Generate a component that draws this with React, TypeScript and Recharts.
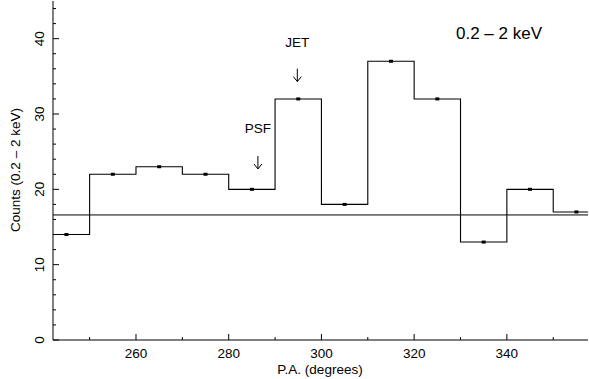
import React from "react"
import {
  ComposedChart,
  Line,
  Scatter,
  XAxis,
  YAxis,
  ReferenceLine,
  ReferenceDot,
} from "recharts"

// bin centres (degrees) and counts per 10-degree bin
const binCenters = [245, 255, 265, 275, 285, 295, 305, 315, 325, 335, 345, 355]
const counts = [14, 22, 23, 22, 20, 32, 18, 37, 32, 13, 20, 17]
const binWidth = 10
const meanLevel = 16.6

const xTicks = [250, 260, 270, 280, 290, 300, 310, 320, 330, 340, 350]
const xLabelled = [260, 280, 300, 320, 340]
const yTicks = [0, 2, 4, 6, 8, 10, 12, 14, 16, 18, 20, 22, 24, 26, 28, 30, 32, 34, 36, 38, 40, 42, 44]
const yLabelled = [0, 10, 20, 30, 40]

const notes = [
  { x: 294.8, textY: 39.6, arrowY: 35.1, text: "JET" },
  { x: 286.3, textY: 28.2, arrowY: 23.5, text: "PSF" },
]

const FONT = "'Liberation Sans', Arial, Helvetica, sans-serif"

// step outline: left edges of every bin, then the right edge of the last one
const stepData = [
  ...binCenters.map((c, i) => ({ x: c - binWidth / 2, y: counts[i] })),
  { x: binCenters[binCenters.length - 1] + binWidth / 2, y: counts[counts.length - 1] },
]
const pointData = binCenters.map((c, i) => ({ x: c, y: counts[i] }))

function BottomTick(props: any) {
  const { x, y, payload } = props
  const major = xLabelled.includes(payload.value)
  return (
    <g>
      <line x1={x} y1={y} x2={x} y2={y - (major ? 6 : 3)} stroke="#000" />
      {major && (
        <text x={x} y={y + 18} textAnchor="middle" fontSize={13.5} fontFamily={FONT} fill="#000">
          {payload.value}
        </text>
      )}
    </g>
  )
}

function TopTick(props: any) {
  const { x, y, payload } = props
  const major = xLabelled.includes(payload.value)
  return <line x1={x} y1={y} x2={x} y2={y + (major ? 6 : 3)} stroke="#000" />
}

function LeftTick(props: any) {
  const { x, y, payload } = props
  const major = yLabelled.includes(payload.value)
  return (
    <g>
      <line x1={x} y1={y} x2={x + (major ? 6 : 3)} y2={y} stroke="#000" />
      {major && (
        <text
          transform={`translate(${x - 9},${y}) rotate(-90)`}
          textAnchor="middle"
          fontSize={13.5}
          fontFamily={FONT}
          fill="#000"
        >
          {payload.value}
        </text>
      )}
    </g>
  )
}

function RightTick(props: any) {
  const { x, y, payload } = props
  const major = yLabelled.includes(payload.value)
  return <line x1={x} y1={y} x2={x - (major ? 6 : 3)} y2={y} stroke="#000" />
}

function Square(props: any) {
  const { cx, cy } = props
  return <rect x={cx - 2} y={cy - 1.5} width={4} height={3} fill="#000" />
}

export default function App() {
  return (
    <div style={{ width: 589, height: 379, background: "#fff" }}>
      <style>{`body{margin:0}`}</style>
      <ComposedChart
        width={589}
        height={379}
        margin={{ top: 1, right: 1, left: 0, bottom: 0 }}
      >
        <XAxis
          xAxisId="b"
          type="number"
          dataKey="x"
          domain={[242.1, 357.5]}
          allowDataOverflow
          ticks={xTicks}
          tick={<BottomTick />}
          tickSize={0}
          tickMargin={0}
          tickLine={false}
          axisLine={{ stroke: "#000" }}
          height={39}
          interval={0}
          label={{
            content: () => (
              <text x={320} y={374} textAnchor="middle" fontSize={13.5} fontFamily={FONT} fill="#000">
                P.A. (degrees)
              </text>
            ),
          }}
        />
        <XAxis
          xAxisId="t"
          orientation="top"
          type="number"
          dataKey="x"
          domain={[242.1, 357.5]}
          allowDataOverflow
          ticks={xTicks}
          tick={<TopTick />}
          tickSize={0}
          tickMargin={0}
          tickLine={false}
          axisLine={{ stroke: "#000" }}
          height={0}
          interval={0}
        />
        <YAxis
          yAxisId="l"
          type="number"
          dataKey="y"
          domain={[0, 45]}
          allowDataOverflow
          ticks={yTicks}
          tick={<LeftTick />}
          tickSize={0}
          tickMargin={0}
          tickLine={false}
          axisLine={{ stroke: "#000" }}
          width={53}
          interval={0}
          label={{
            content: () => (
              <text
                transform="translate(20,170) rotate(-90)"
                textAnchor="middle"
                fontSize={13.5}
                fontFamily={FONT}
                fill="#000"
              >
                Counts (0.2 – 2 keV)
              </text>
            ),
          }}
        />
        <YAxis
          yAxisId="r"
          orientation="right"
          type="number"
          dataKey="y"
          domain={[0, 45]}
          allowDataOverflow
          ticks={yTicks}
          tick={<RightTick />}
          tickSize={0}
          tickMargin={0}
          tickLine={false}
          axisLine={{ stroke: "#000" }}
          width={0}
          interval={0}
        />
        <ReferenceLine xAxisId="b" yAxisId="l" y={meanLevel} stroke="#000" strokeWidth={1} />
        <Line
          xAxisId="b"
          yAxisId="l"
          data={stepData}
          dataKey="y"
          type="stepAfter"
          stroke="#000"
          strokeWidth={1.1}
          dot={false}
          isAnimationActive={false}
        />
        <Scatter
          xAxisId="b"
          yAxisId="l"
          data={pointData}
          dataKey="y"
          shape={<Square />}
          isAnimationActive={false}
        />
        {notes.map((n) => (
          <ReferenceDot
            key={n.text}
            xAxisId="b"
            yAxisId="l"
            x={n.x}
            y={n.textY}
            r={0}
            shape={(p: any) => (
              <text
                x={p.cx}
                y={p.cy + 5}
                textAnchor="middle"
                fontSize={13.5}
                fontFamily={FONT}
                fill="#000"
              >
                {n.text}
              </text>
            )}
          />
        ))}
        {notes.map((n) => (
          <ReferenceDot
            key={n.text + "-arrow"}
            xAxisId="b"
            yAxisId="l"
            x={n.x}
            y={n.arrowY}
            r={0}
            shape={(p: any) => (
              <g stroke="#000" strokeWidth={1} fill="none">
                <line x1={p.cx} y1={p.cy - 7} x2={p.cx} y2={p.cy + 6} />
                <polyline points={`${p.cx - 4},${p.cy + 1} ${p.cx},${p.cy + 6} ${p.cx + 4},${p.cy + 1}`} />
              </g>
            )}
          />
        ))}
        <ReferenceDot
          xAxisId="b"
          yAxisId="l"
          x={338.3}
          y={40.8}
          r={0}
          shape={(p: any) => (
            <text x={p.cx} y={p.cy + 6} textAnchor="middle" fontSize={17} fontFamily={FONT} fill="#000">
              0.2 – 2 keV
            </text>
          )}
        />
      </ComposedChart>
    </div>
  )
}
